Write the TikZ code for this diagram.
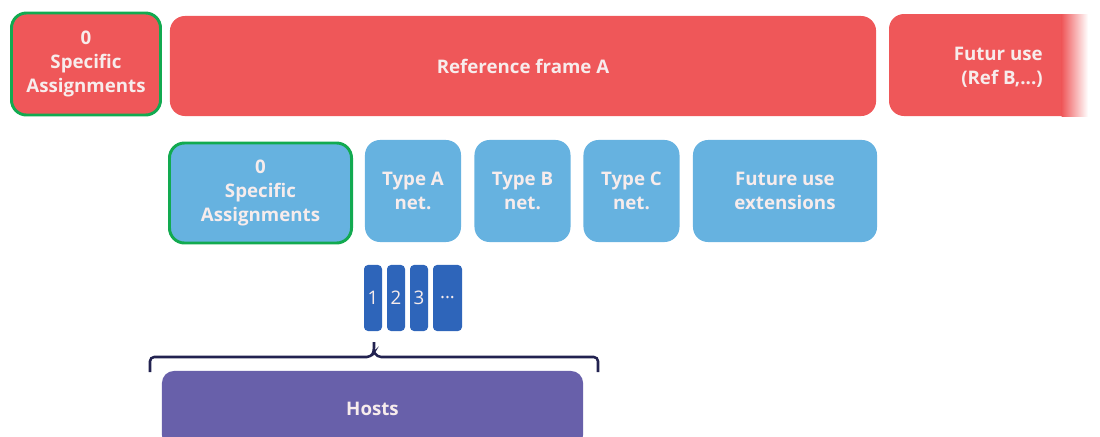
\documentclass[tikz,border=0pt]{standalone}
\usepackage{fontspec}
\setmainfont{Open Sans}
\usepackage{tikz}
\usetikzlibrary{positioning}
\definecolor{refred}{RGB}{239,87,89}
\definecolor{netblue}{RGB}{102,178,224}
\definecolor{hostblue}{RGB}{46,101,186}
\definecolor{hostpurple}{RGB}{104,96,170}
\definecolor{specgreen}{RGB}{18,170,80}
\definecolor{bracenavy}{RGB}{34,34,80}
\definecolor{boxtext}{RGB}{247,236,236}

\begin{document}
\begin{tikzpicture}[x=0.025cm, y=-0.025cm,
font=\fontsize{13.3}{17.2}\selectfont\bfseries,
redbox/.style={rectangle, rounded corners=0.375cm, fill=refred, text=boxtext, align=center, inner sep=0pt},
netbox/.style={rectangle, rounded corners=0.375cm, fill=netblue, text=boxtext, align=center, inner sep=0pt, minimum height=2.55cm},
specbox/.style={draw=specgreen, line width=2.1pt},
hostbox/.style={rectangle, rounded corners=0.1cm, fill=hostblue, text=boxtext, inner sep=0pt, minimum height=1.65cm, font=\fontsize{13.3}{17}\selectfont\mdseries},
]
\useasboundingbox (0,0) rectangle (1100,436);

%Reference frame row
\node[redbox, specbox, minimum width=3.725cm, minimum height=2.55cm] (redspec) at (86,64) {0\\Specific\\Assignments};
\node[redbox, minimum width=17.65cm, minimum height=2.5cm] (refA) at (523,66) {Reference frame A};

%Futur use, fading out on the right
\fill[refred] (1062,14) [rounded corners=0.375cm] -- (889,14) -- (889,116) [sharp corners] -- (1062,116) -- cycle;
\shade[left color=refred, right color=white] (1061.5,14) rectangle (1088,116);
\node[text=boxtext, align=right, anchor=east, inner sep=0pt] (futur) at (1043,67) {Futur use\\(Ref B,...)};

%Network row
\node[netbox, specbox, minimum width=4.55cm, minimum height=2.5cm] (bluespec) at (260.5,193) {0\\Specific\\Assignments};
\node[netbox, minimum width=2.4cm] (typeA) at (413,191) {Type A\\net.};
\node[netbox, minimum width=2.4cm] (typeB) at (522.5,191) {Type B\\net.};
\node[netbox, minimum width=2.4cm] (typeC) at (631.5,191) {Type C\\net.};
\node[netbox, minimum width=4.6cm] (futext) at (785,191) {Future use\\extensions};

%Host numbers
\node[hostbox, minimum width=0.45cm] (h1) at (373,298) {1};
\node[hostbox, minimum width=0.45cm] (h2) at (396,298) {2};
\node[hostbox, minimum width=0.45cm] (h3) at (419,298) {3};
\node[hostbox, minimum width=0.725cm] (hdots) at (447.5,298) {...};

%Brace
\draw[bracenavy, line width=1.8pt, rounded corners=3pt]
  (150,372) -- (150,357) -- (371,357) -- (374,352) -- (374,342);
\draw[bracenavy, line width=1.8pt, rounded corners=3pt]
  (598,372) -- (598,357) -- (377,357) -- (374,352);

%Hosts
\node[rectangle, rounded corners=0.3cm, fill=hostpurple, text=boxtext, minimum width=10.525cm, minimum height=1.9cm, inner sep=0pt] (hosts) at (372.5,409) {Hosts};
\end{tikzpicture}
\end{document}
